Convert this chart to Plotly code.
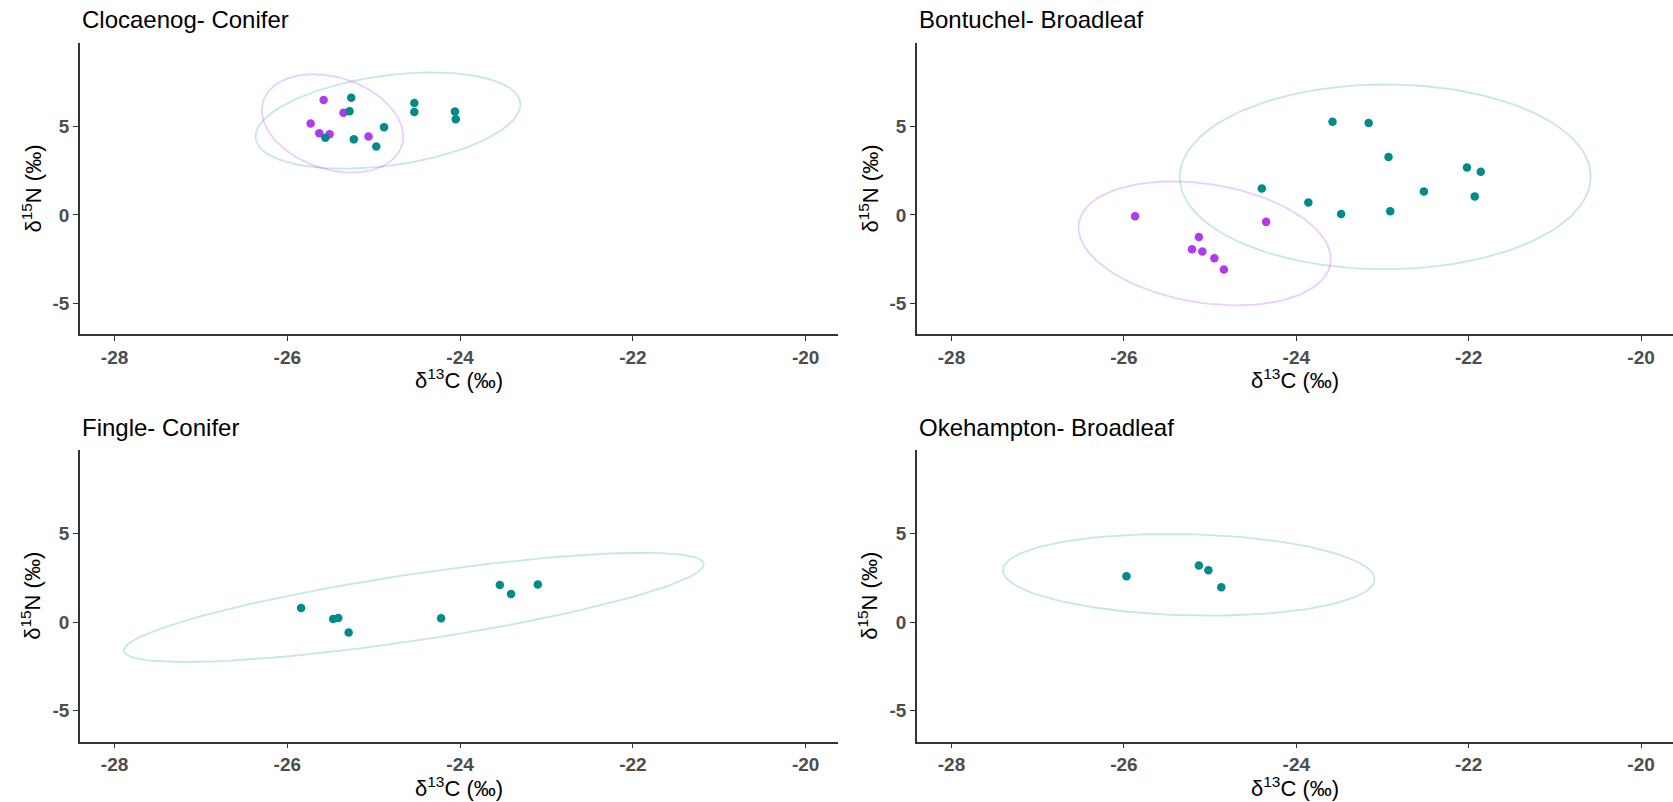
import numpy as np
import plotly.graph_objects as go

# ---- data: delta13C / delta15N per site, two groups per site ----
panel_titles = ["Clocaenog- Conifer", "Bontuchel- Broadleaf",
                "Fingle- Conifer", "Okehampton- Broadleaf"]

clocaenog_a_x = [-25.58, -25.35, -25.73, -25.63, -25.51, -25.06]
clocaenog_a_y = [6.49, 5.77, 5.17, 4.62, 4.56, 4.43]
clocaenog_b_x = [-25.26, -25.28, -25.56, -25.23, -24.88, -24.97, -24.53, -24.53, -24.06, -24.05]
clocaenog_b_y = [6.62, 5.86, 4.36, 4.27, 4.96, 3.87, 6.33, 5.81, 5.85, 5.41]

bontuchel_a_x = [-25.87, -25.13, -25.21, -25.09, -24.95, -24.84, -24.35]
bontuchel_a_y = [-0.07, -1.24, -1.93, -2.06, -2.44, -3.08, -0.39]
bontuchel_b_x = [-23.58, -23.16, -22.93, -22.02, -21.86, -24.40, -23.86, -22.52, -21.93, -23.48, -22.91]
bontuchel_b_y = [5.26, 5.20, 3.27, 2.68, 2.44, 1.50, 0.71, 1.33, 1.05, 0.05, 0.21]

fingle_b_x = [-25.84, -25.47, -25.41, -25.29, -24.22, -23.54, -23.41, -23.10]
fingle_b_y = [0.80, 0.19, 0.24, -0.58, 0.23, 2.11, 1.60, 2.13]

okehampton_b_x = [-25.97, -25.13, -25.02, -24.87]
okehampton_b_y = [2.60, 3.20, 2.94, 1.98]

x_tick_vals = [-28, -26, -24, -22, -20]
x_tick_text = ["-28", "-26", "-24", "-22", "-20"]
y_tick_vals = [-5, 0, 5]
y_tick_text = ["-5", "0", "5"]

X_RANGE = [-28.4, -19.63]
Y_RANGE = [-6.74, 9.73]

COL_A = "#B23AEE"
COL_B = "#008B8B"
COL_A_LINE = "rgba(178,58,238,0.25)"
COL_B_LINE = "rgba(0,139,139,0.22)"

panels = [
    [(clocaenog_a_x, clocaenog_a_y, "A"), (clocaenog_b_x, clocaenog_b_y, "B")],
    [(bontuchel_a_x, bontuchel_a_y, "A"), (bontuchel_b_x, bontuchel_b_y, "B")],
    [(fingle_b_x, fingle_b_y, "B")],
    [(okehampton_b_x, okehampton_b_y, "B")],
]


def data_ellipse(x, y, level=0.95, segments=120):
    """Normal-theory data ellipse (same construction as ggplot2 stat_ellipse type='norm')."""
    pts = np.column_stack([x, y]).astype(float)
    n = len(pts)
    center = pts.mean(axis=0)
    cov = np.cov(pts, rowvar=False)
    d = n - 1
    # quantile of F(2, d) in closed form
    fq = (d / 2.0) * ((1 - level) ** (-2.0 / d) - 1)
    radius = np.sqrt(2 * fq)
    t = np.linspace(0, 2 * np.pi, segments)
    circle = np.column_stack([np.cos(t), np.sin(t)])
    chol_upper = np.linalg.cholesky(cov).T
    ell = center + radius * circle @ chol_upper
    return ell[:, 0], ell[:, 1]


W, H = 1673, 802
# plot-area boxes in pixels: (left, right, top, bottom)
boxes = [
    (80, 837.6, 42.7, 334.3),
    (917, 1673, 42.7, 334.3),
    (80, 837.6, 450.0, 741.6),
    (917, 1673, 450.0, 741.6),
]

fig = go.Figure()
layout = {}
annotations = []
FONT = "Liberation Sans, Arial, sans-serif"
TICK_FONT = dict(family=FONT, size=19, color="#4D4D4D", weight="bold")

for i, (groups, box) in enumerate(zip(panels, boxes)):
    k = "" if i == 0 else str(i + 1)
    xa, ya = "x" + k, "y" + k
    l, r, t, b = box
    layout["xaxis" + k] = dict(
        domain=[l / W, r / W], anchor=ya, range=X_RANGE,
        tickvals=x_tick_vals, ticktext=x_tick_text,
        showgrid=False, zeroline=False, showline=True,
        linecolor="#333333", linewidth=1.6,
        ticks="outside", ticklen=5, tickwidth=1.4, tickcolor="#333333",
        tickfont=TICK_FONT,
    )
    layout["yaxis" + k] = dict(
        domain=[1 - b / H, 1 - t / H], anchor=xa, range=Y_RANGE,
        tickvals=y_tick_vals, ticktext=y_tick_text,
        showgrid=False, zeroline=False, showline=True,
        linecolor="#333333", linewidth=1.6,
        ticks="outside", ticklen=5, tickwidth=1.4, tickcolor="#333333",
        tickfont=TICK_FONT,
    )

    # ellipses underneath the points
    for gx, gy, g in groups:
        ex, ey = data_ellipse(gx, gy)
        fig.add_trace(go.Scatter(
            x=ex, y=ey, mode="lines", xaxis=xa, yaxis=ya,
            line=dict(color=COL_A_LINE if g == "A" else COL_B_LINE, width=1.8),
            showlegend=False, hoverinfo="skip"))
    for gx, gy, g in groups:
        fig.add_trace(go.Scatter(
            x=gx, y=gy, mode="markers", xaxis=xa, yaxis=ya,
            marker=dict(color=COL_A if g == "A" else COL_B, size=8.5, line=dict(width=0)),
            showlegend=False))

    # panel title
    annotations.append(dict(
        text=panel_titles[i], xref="paper", yref="paper",
        x=l / W, y=1 - (t - 23) / H, xanchor="left", yanchor="middle",
        showarrow=False, font=dict(family=FONT, size=24, color="black")))
    # x-axis title
    annotations.append(dict(
        text="δ<sup>13</sup>C (‰)", xref="paper", yref="paper",
        x=(l + r) / 2 / W, y=1 - (b + 45) / H, xanchor="center", yanchor="middle",
        showarrow=False, font=dict(family=FONT, size=22, color="black")))
    # y-axis title
    annotations.append(dict(
        text="δ<sup>15</sup>N (‰)", xref="paper", yref="paper",
        x=(l - 49) / W, y=1 - ((t + b) / 2) / H, xanchor="center", yanchor="middle",
        textangle=-90,
        showarrow=False, font=dict(family=FONT, size=22, color="black")))

fig.update_layout(
    width=W, height=H,
    margin=dict(l=0, r=0, t=0, b=0),
    paper_bgcolor="white", plot_bgcolor="white",
    annotations=annotations,
    **layout,
)

fig.write_html("out.html")
